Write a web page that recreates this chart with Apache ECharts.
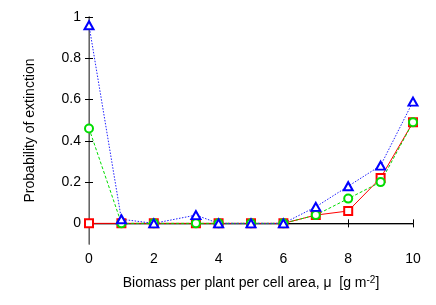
<!DOCTYPE html>
<html>
<head>
<meta charset="utf-8">
<script src="https://cdn.jsdelivr.net/npm/echarts@6/dist/echarts.min.js"></script>
<style>html,body{margin:0;padding:0;background:#fff}#c{width:436px;height:305px}</style>
</head>
<body>
<div id="c"></div>
<script>
var xValues = [0, 1, 2, 3.3, 4, 5, 6, 7, 8, 9, 10];
var redValues = [0, 0, 0, 0, 0, 0, 0, 0.04, 0.06, 0.22, 0.49];
var greenValues = [0.46, 0, 0, 0, 0, 0, 0, 0.04, 0.12, 0.20, 0.49];
var blueValues = [0.96, 0.02, 0, 0.04, 0, 0, 0, 0.08, 0.18, 0.28, 0.59];
var xTicks = [0, 2, 4, 6, 8, 10];
var yTicks = [0, 0.2, 0.4, 0.6, 0.8, 1];

function pairs(ys) { return xValues.map(function (x, i) { return [x, ys[i]]; }); }
var font = 'Liberation Sans, Arial, sans-serif';

var chart = echarts.init(document.getElementById('c'), null, {renderer: 'canvas'});
chart.setOption({
  animation: false,
  backgroundColor: '#fff',
  grid: {left: 89, right: 23, top: 17, bottom: 61, containLabel: false},
  xAxis: [{
    type: 'value', min: 0, max: 10, interval: 2, position: 'bottom',
    name: 'Biomass per plant per cell area, \u03bc  [g m{sup|-2}]',
    nameLocation: 'middle', nameGap: 31,
    nameTextStyle: {color: '#000', fontFamily: font, fontSize: 14,
      rich: {sup: {fontSize: 10, fontFamily: font, color: '#000', padding: [0, 0, 7, 0]}}},
    axisLine: {show: true, lineStyle: {color: '#888', width: 1.5}},
    axisTick: {show: true, inside: true, length: 4, lineStyle: {color: '#000'}},
    axisLabel: {color: '#000', fontFamily: font, fontSize: 14, margin: 8},
    splitLine: {show: false}
  }, {
    type: 'value', min: 0, max: 10, interval: 2, position: 'top',
    axisLine: {show: true, lineStyle: {color: '#000', width: 1}},
    axisTick: {show: true, inside: true, length: 4, lineStyle: {color: '#000'}},
    axisLabel: {show: false}, splitLine: {show: false}
  }],
  yAxis: [{
    type: 'value', min: -0.1, max: 1, position: 'left',
    name: 'Probability of extinction', nameLocation: 'middle', nameGap: 52,
    nameTextStyle: {color: '#000', fontFamily: font, fontSize: 14},
    axisLine: {show: true, lineStyle: {color: '#000', width: 1}},
    axisTick: {show: true, inside: true, length: 4, lineStyle: {color: '#000'},
      customValues: yTicks},
    axisLabel: {color: '#000', fontFamily: font, fontSize: 14, margin: 8,
      customValues: yTicks, formatter: function (v) { return String(+v.toFixed(1)); }},
    splitLine: {show: false}
  }, {
    type: 'value', min: -0.1, max: 1, position: 'right',
    axisLine: {show: true, lineStyle: {color: '#888', width: 1.5}},
    axisTick: {show: true, inside: true, length: 4, lineStyle: {color: '#000'},
      customValues: yTicks},
    axisLabel: {show: false}, splitLine: {show: false}
  }],
  series: [{
    type: 'line', data: pairs(redValues), xAxisIndex: 0, yAxisIndex: 0,
    symbol: 'emptyRect', symbolSize: 8,
    lineStyle: {color: '#ff0000', width: 1},
    itemStyle: {color: '#ff0000', borderColor: '#ff0000', borderWidth: 1}
  }, {
    type: 'line', data: pairs(greenValues), xAxisIndex: 0, yAxisIndex: 0,
    symbol: 'emptyCircle', symbolSize: 8,
    lineStyle: {color: '#00dd00', width: 1, type: [3, 2]},
    itemStyle: {color: '#00dd00', borderColor: '#00dd00', borderWidth: 1}
  }, {
    type: 'line', data: pairs(blueValues), xAxisIndex: 0, yAxisIndex: 0,
    symbol: 'emptyTriangle', symbolSize: [9, 8],
    lineStyle: {color: '#2020ff', width: 1, type: [1.5, 1.5]},
    itemStyle: {color: '#0000ff', borderColor: '#0000ff', borderWidth: 1}
  }]
});
chart.setOption({series: [
  {itemStyle: {borderWidth: 1}, emphasis: {disabled: true}},
  {itemStyle: {borderWidth: 1}, emphasis: {disabled: true}},
  {itemStyle: {borderWidth: 1}, emphasis: {disabled: true}}
]});
</script>
</body>
</html>
